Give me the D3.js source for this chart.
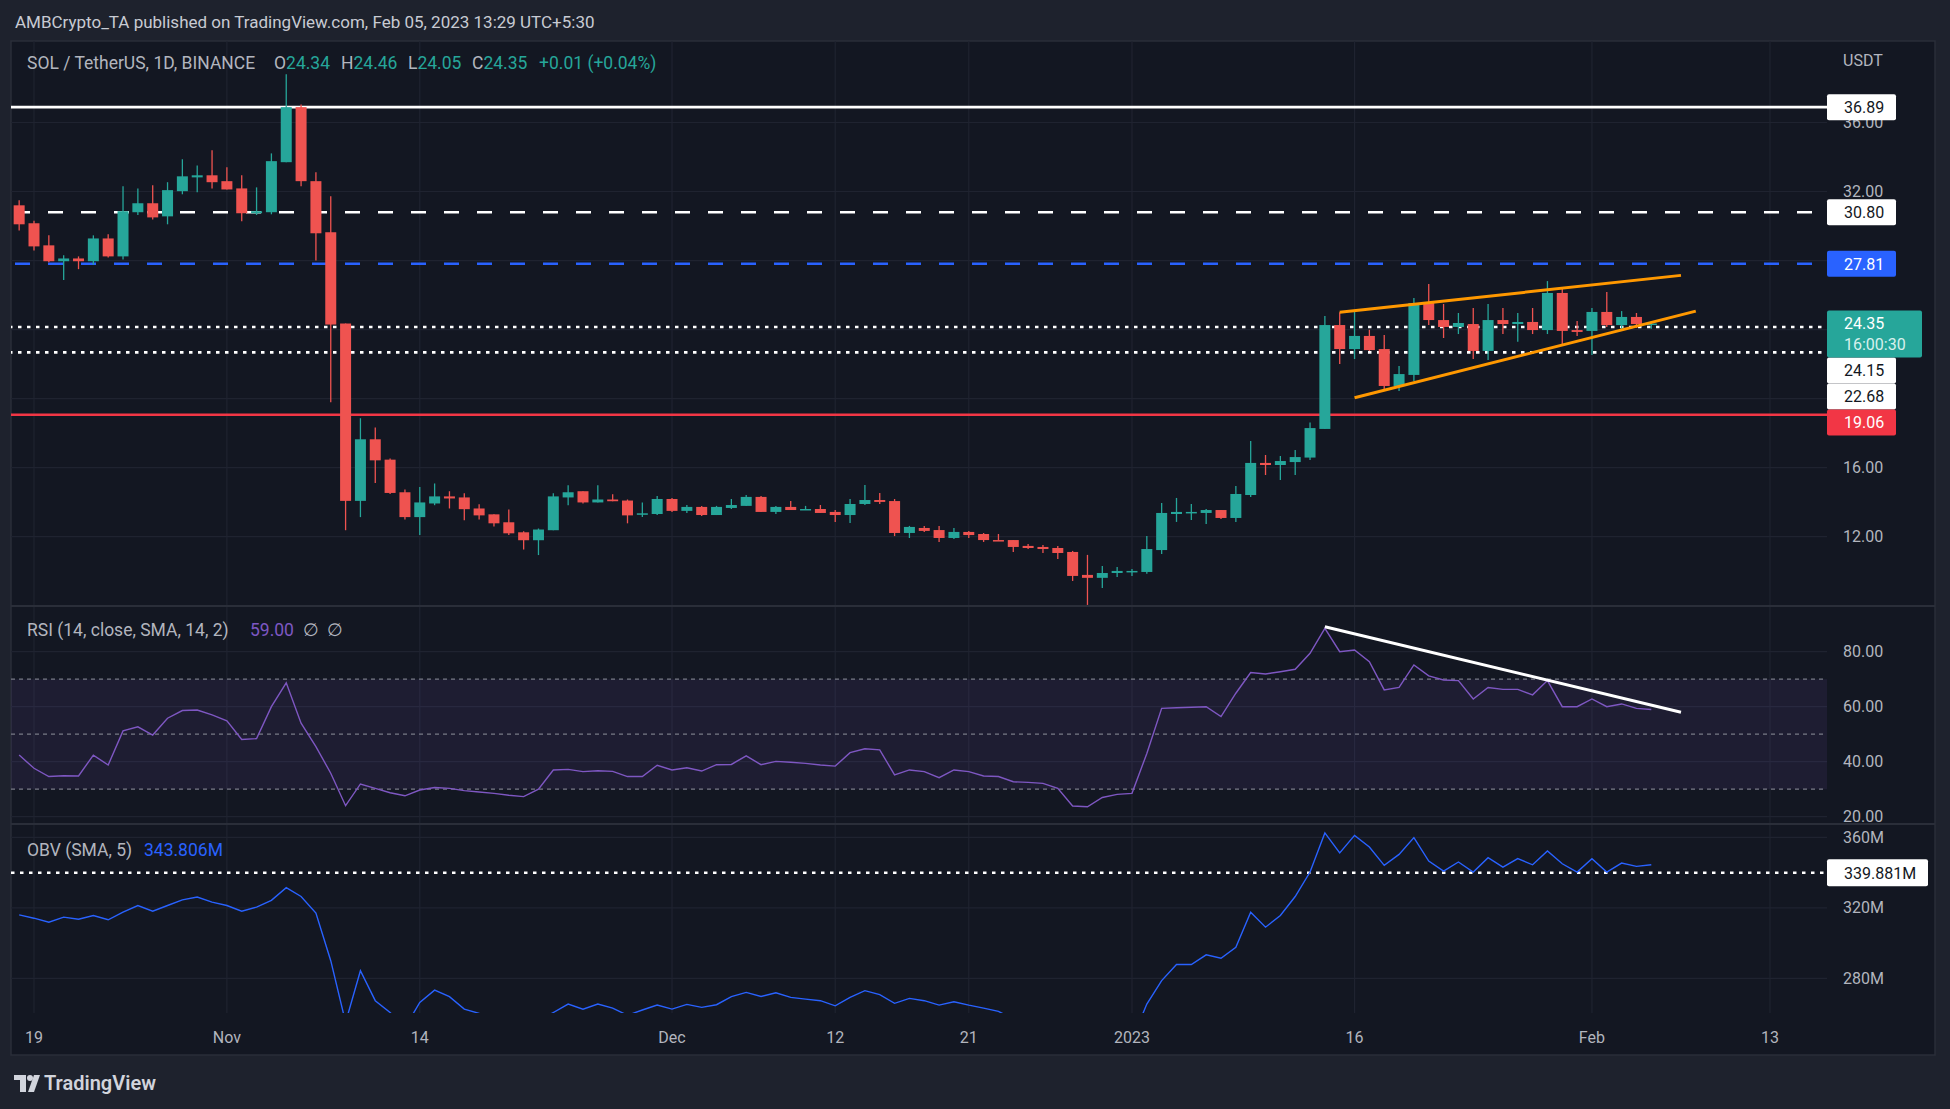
<!DOCTYPE html>
<html>
<head>
<meta charset="utf-8">
<script src="https://cdn.jsdelivr.net/npm/d3@7"></script>
<style>
  html, body { margin: 0; padding: 0; background: #1e222d; }
  svg { display: block; font-family: Roboto, "Open Sans", sans-serif; }
</style>
</head>
<body>
<svg id="chart" width="1950" height="1109"></svg>
<script>

// SOL / USDT daily candles, Oct 18 2022 -> Feb 5 2023
const firstDay = "2022-10-18";
const opens = [31.20, 30.16, 28.88, 27.96, 28.12, 27.96, 29.28, 28.24, 30.80, 31.32,
  30.56, 32.02, 32.82, 32.94, 32.60, 32.18, 30.74, 30.80, 33.70, 36.89,
  32.60, 29.64, 24.35, 14.07, 17.64, 16.46, 14.57, 13.13, 13.92, 14.33,
  14.27, 13.63, 13.29, 12.83, 12.25, 11.79, 12.37, 14.27, 14.63, 13.98,
  14.15, 14.09, 13.29, 13.31, 14.18, 13.49, 13.72, 13.25, 13.66, 13.78,
  14.30, 13.43, 13.72, 13.54, 13.60, 13.43, 13.25, 13.89, 14.12, 14.06,
  12.21, 12.50, 12.38, 11.92, 12.27, 12.15, 11.80, 11.80, 11.46, 11.40,
  11.34, 11.11, 9.78, 9.61, 9.89, 9.95, 9.95, 11.22, 13.31, 13.37,
  13.37, 13.54, 13.08, 14.41, 16.27, 16.15, 16.32, 16.58, 18.24, 24.26,
  22.87, 23.63, 22.87, 20.73, 21.37, 25.54, 24.55, 24.15, 24.32, 22.76,
  24.55, 24.32, 24.44, 23.97, 26.12, 23.97, 23.92, 25.02, 24.26, 24.73,
  24.34];
const highs = [31.50, 30.30, 29.46, 28.30, 28.24, 29.46, 29.52, 32.30, 32.18, 32.36,
  32.54, 33.87, 33.51, 34.39, 33.40, 32.94, 32.24, 34.21, 38.80, 37.05,
  33.12, 31.72, 24.35, 18.86, 18.32, 16.52, 14.73, 14.88, 15.08, 14.63,
  14.51, 13.87, 13.29, 13.57, 12.31, 12.47, 14.51, 14.97, 14.63, 14.97,
  14.45, 14.15, 13.98, 14.35, 14.24, 13.83, 13.78, 13.78, 14.18, 14.41,
  14.35, 13.78, 14.06, 13.78, 13.83, 13.54, 14.18, 14.99, 14.53, 14.18,
  12.62, 12.62, 12.62, 12.50, 12.33, 12.21, 12.15, 11.80, 11.57, 11.51,
  11.46, 11.17, 10.94, 10.30, 10.24, 10.12, 12.04, 13.95, 14.24, 13.89,
  13.60, 13.54, 14.93, 17.54, 16.73, 16.67, 17.02, 18.62, 24.79, 25.00,
  25.04, 23.99, 23.68, 21.89, 25.83, 26.64, 25.48, 24.96, 25.25, 25.48,
  25.25, 24.96, 25.25, 26.81, 26.35, 24.50, 25.25, 26.18, 25.07, 24.96,
  24.46];
const lows = [29.74, 28.58, 27.90, 26.87, 27.50, 27.76, 28.18, 28.06, 30.64, 30.38,
  30.10, 31.84, 31.96, 32.18, 32.12, 30.28, 30.64, 30.68, 33.70, 32.30,
  28.00, 19.78, 12.37, 13.13, 15.10, 14.47, 12.99, 12.09, 13.82, 13.63,
  12.95, 12.99, 12.59, 12.09, 11.25, 10.93, 12.37, 13.82, 13.92, 13.98,
  14.05, 12.77, 13.13, 13.25, 13.43, 13.37, 13.19, 13.25, 13.60, 13.78,
  13.43, 13.31, 13.54, 13.54, 13.37, 12.85, 12.79, 13.83, 13.89, 12.03,
  11.92, 12.27, 11.69, 11.86, 11.92, 11.69, 11.75, 11.11, 11.28, 11.05,
  10.70, 9.43, 8.04, 9.02, 9.66, 9.72, 9.84, 10.99, 12.85, 12.96,
  12.73, 13.02, 12.85, 14.30, 15.57, 15.28, 15.57, 16.44, 18.24, 22.00,
  22.29, 22.76, 20.50, 20.44, 21.02, 24.26, 23.51, 23.74, 22.29, 22.24,
  23.74, 23.30, 23.74, 23.74, 23.10, 23.63, 22.52, 24.15, 24.03, 24.09,
  24.05];
const closes = [30.10, 28.82, 27.96, 28.12, 27.96, 29.28, 28.24, 30.86, 31.32, 30.50,
  32.08, 32.88, 32.94, 32.54, 32.12, 30.74, 30.86, 33.76, 36.89, 32.60,
  29.58, 24.29, 14.07, 17.64, 16.42, 14.53, 13.13, 13.98, 14.33, 14.21,
  13.59, 13.23, 12.77, 12.19, 11.79, 12.41, 14.33, 14.57, 13.98, 14.15,
  14.05, 13.23, 13.35, 14.18, 13.49, 13.72, 13.25, 13.72, 13.83, 14.30,
  13.43, 13.72, 13.54, 13.60, 13.37, 13.25, 13.89, 14.12, 14.01, 12.21,
  12.56, 12.33, 11.92, 12.27, 12.09, 11.80, 11.75, 11.40, 11.34, 11.28,
  11.05, 9.72, 9.61, 9.89, 10.01, 10.01, 11.28, 13.37, 13.43, 13.43,
  13.54, 13.08, 14.47, 16.27, 16.15, 16.38, 16.61, 18.29, 24.26, 22.87,
  23.63, 22.81, 20.73, 21.42, 25.54, 24.55, 24.15, 24.38, 22.76, 24.55,
  24.32, 24.44, 23.97, 26.12, 23.92, 23.86, 25.02, 24.26, 24.73, 24.32,
  24.35];

// indicators
const rsiValues = [42.4, 37.6, 34.6, 34.9, 34.8, 42.4, 38.8, 51.2, 52.7, 49.7,
  55.8, 58.6, 58.8, 57.0, 54.9, 48.1, 48.4, 60.0, 68.7, 54.0,
  45.5, 35.8, 24.0, 31.9, 30.3, 28.7, 27.6, 29.7, 30.6, 30.3,
  29.5, 29.0, 28.5, 27.8, 27.3, 30.0, 37.0, 37.2, 36.4, 36.7,
  36.5, 34.6, 34.6, 38.7, 37.0, 37.8, 36.6, 38.9, 39.0, 42.1,
  38.9, 40.1, 39.8, 39.4, 38.8, 38.4, 43.3, 44.7, 44.3, 35.2,
  37.0, 36.4, 34.2, 37.0, 36.4, 34.8, 34.6, 32.7, 32.5, 32.1,
  30.3, 23.9, 23.6, 27.0, 28.1, 28.5, 43.0, 59.4, 59.6, 59.8,
  60.0, 56.4, 64.9, 72.4, 71.9, 72.7, 73.6, 79.4, 88.5, 80.0,
  80.6, 76.4, 66.1, 67.0, 75.2, 71.2, 69.7, 69.5, 62.8, 67.0,
  66.3, 66.3, 64.3, 69.5, 60.0, 60.0, 62.8, 60.0, 61.0, 59.4,
  59.0];
const obvValues = [316.0, 314.1, 311.8, 314.7, 313.5, 315.6, 313.2, 317.5, 321.3, 318.1,
  321.3, 324.5, 326.1, 323.2, 321.3, 318.1, 320.4, 324.2, 331.4, 326.4,
  317.0, 290.0, 255.0, 284.3, 267.3, 260.6, 252.0, 266.3, 273.3, 269.6,
  262.5, 260.1, 255.0, 253.0, 252.0, 256.0, 260.6, 265.4, 262.5, 265.4,
  263.1, 259.0, 262.0, 264.8, 262.5, 265.2, 263.5, 265.0, 269.6, 272.0,
  269.7, 271.8, 269.2, 268.2, 267.3, 264.4, 269.2, 273.0, 270.7, 265.8,
  268.6, 267.3, 264.8, 266.7, 264.8, 263.1, 261.2, 257.0, 250.0, 248.0,
  247.0, 240.0, 238.0, 241.0, 243.0, 245.0, 265.4, 278.7, 287.8, 287.8,
  293.3, 291.4, 297.6, 317.5, 309.0, 315.6, 326.4, 340.3, 362.5, 351.1,
  361.1, 354.5, 344.1, 350.3, 359.8, 346.5, 340.8, 346.0, 340.3, 348.4,
  343.1, 347.9, 344.4, 352.2, 345.0, 340.3, 347.9, 340.3, 345.4, 343.5,
  344.4];

// horizontal levels and drawings
const levelPrices = [36.89, 30.80, 27.81, 24.15, 22.68, 19.06];
const obvLevel = 339.881;
const wedgeUpperDates = ["2023-01-15", "2023-02-07"];
const wedgeUpperPrices = [25.00, 27.14];
const wedgeLowerDates = ["2023-01-16", "2023-02-08"];
const wedgeLowerPrices = [20.05, 25.07];
const rsiTrendDates = ["2023-01-14", "2023-02-07"];
const rsiTrendValues = [89.1, 57.96];

// axis ticks
const timeTickDates = ["2022-10-19", "2022-11-01", "2022-11-14", "2022-12-01", "2022-12-12",
  "2022-12-21", "2023-01-01", "2023-01-16", "2023-02-01", "2023-02-13"];
const timeTickLabels = ["19", "Nov", "14", "Dec", "12", "21", "2023", "16", "Feb", "13"];
const priceTicks = [8, 12, 16, 20, 24, 28, 32, 36];
const rsiTicks = [20, 40, 60, 80];
const obvTicks = [280, 320, 360];

const parseDay = d3.utcParse("%Y-%m-%d");
const dates = opens.map((_, i) => d3.utcDay.offset(parseDay(firstDay), i));

// layout
const L = 11, R = 1827, AR = 1935;
const pricePane = [41, 606], rsiPane = [606, 824], obvPane = [824, 1013], axisBottom = 1055;

const x = d3.scaleUtc()
    .domain([parseDay("2022-10-19"), parseDay("2023-02-13")])
    .range([34, 1770]);
const yPrice = d3.scaleLinear().domain([12, 36]).range([536.6, 122.5]);
const yRsi = d3.scaleLinear().domain([20, 80]).range([816.7, 651.7]);
const yObv = d3.scaleLinear().domain([280, 360]).range([978.3, 837.3]);

const svg = d3.select("#chart");
const upColor = "#26a69a", downColor = "#ef5350";

// backgrounds
svg.append("rect").attr("width", 1950).attr("height", 1109).attr("fill", "#1e222d");
svg.append("rect").attr("x", L).attr("y", pricePane[0]).attr("width", AR - L).attr("height", axisBottom - pricePane[0])
    .attr("fill", "#131722").attr("stroke", "#2a2e39").attr("stroke-width", 1.5);

// clip paths
const defs = svg.append("defs");
[["clipPrice", pricePane], ["clipRsi", rsiPane], ["clipObv", obvPane]].forEach(([id, p]) => {
    defs.append("clipPath").attr("id", id).append("rect")
        .attr("x", L).attr("y", p[0]).attr("width", R - L).attr("height", p[1] - p[0]);
});

// grid
const grid = svg.append("g").attr("stroke", "#1f2330").attr("stroke-width", 1.2);
timeTickDates.forEach(d => {
    grid.append("line").attr("x1", x(parseDay(d))).attr("x2", x(parseDay(d)))
        .attr("y1", pricePane[0]).attr("y2", obvPane[1]);
});
priceTicks.forEach(v => grid.append("line").attr("x1", L).attr("x2", R).attr("y1", yPrice(v)).attr("y2", yPrice(v)));
rsiTicks.forEach(v => grid.append("line").attr("x1", L).attr("x2", R).attr("y1", yRsi(v)).attr("y2", yRsi(v)));
obvTicks.forEach(v => grid.append("line").attr("x1", L).attr("x2", R).attr("y1", yObv(v)).attr("y2", yObv(v)));

// pane separators
[rsiPane[0], obvPane[0]].forEach(y => {
    svg.append("line").attr("x1", L).attr("x2", AR).attr("y1", y).attr("y2", y)
        .attr("stroke", "#2a2e39").attr("stroke-width", 2);
});

// ---------- price pane ----------
const pg = svg.append("g").attr("clip-path", "url(#clipPrice)");

const levelColors = ["#ffffff", "#ffffff", "#2962ff", "#ffffff", "#ffffff", "#f23645"];
const levelDash = [null, "15 18", "15 18", "3.5 5.5", "3.5 5.5", null];
levelPrices.forEach((v, i) => {
    pg.append("line").attr("x1", L).attr("x2", R).attr("y1", yPrice(v)).attr("y2", yPrice(v))
        .attr("stroke", levelColors[i]).attr("stroke-width", 2.6)
        .attr("stroke-dasharray", levelDash[i]).attr("stroke-dashoffset", levelDash[i] ? 29 : null);
});

// candles
const candle = pg.selectAll("g.candle").data(dates).enter().append("g").attr("class", "candle");
candle.append("line")
    .attr("x1", d => x(d)).attr("x2", d => x(d))
    .attr("y1", (d, i) => yPrice(highs[i])).attr("y2", (d, i) => yPrice(lows[i]))
    .attr("stroke", (d, i) => closes[i] >= opens[i] ? upColor : downColor).attr("stroke-width", 1.3);
candle.append("rect")
    .attr("x", d => x(d) - 5.5).attr("width", 11)
    .attr("y", (d, i) => yPrice(Math.max(opens[i], closes[i])))
    .attr("height", (d, i) => Math.max(1.5, Math.abs(yPrice(opens[i]) - yPrice(closes[i]))))
    .attr("fill", (d, i) => closes[i] >= opens[i] ? upColor : downColor);

// rising wedge
[[wedgeUpperDates, wedgeUpperPrices], [wedgeLowerDates, wedgeLowerPrices]].forEach(([ds, ps]) => {
    pg.append("line")
        .attr("x1", x(parseDay(ds[0]))).attr("y1", yPrice(ps[0]))
        .attr("x2", x(parseDay(ds[1]))).attr("y2", yPrice(ps[1]))
        .attr("stroke", "#ff9800").attr("stroke-width", 3);
});

// ---------- RSI pane ----------
const rg = svg.append("g").attr("clip-path", "url(#clipRsi)");
rg.append("rect").attr("x", L).attr("width", R - L)
    .attr("y", yRsi(70)).attr("height", yRsi(30) - yRsi(70))
    .attr("fill", "#7e57c2").attr("fill-opacity", 0.1);
[70, 50, 30].forEach(v => {
    rg.append("line").attr("x1", L).attr("x2", R).attr("y1", yRsi(v)).attr("y2", yRsi(v))
        .attr("stroke", "#787b86").attr("stroke-width", 1.2).attr("stroke-dasharray", "4 4");
});
rg.append("path").datum(rsiValues)
    .attr("d", d3.line().x((d, i) => x(dates[i])).y(d => yRsi(d)))
    .attr("fill", "none").attr("stroke", "#7e57c2").attr("stroke-width", 1.4);
rg.append("line")
    .attr("x1", x(parseDay(rsiTrendDates[0]))).attr("y1", yRsi(rsiTrendValues[0]))
    .attr("x2", x(parseDay(rsiTrendDates[1]))).attr("y2", yRsi(rsiTrendValues[1]))
    .attr("stroke", "#ffffff").attr("stroke-width", 3);

// ---------- OBV pane ----------
const og = svg.append("g").attr("clip-path", "url(#clipObv)");
og.append("line").attr("x1", L).attr("x2", R).attr("y1", yObv(obvLevel)).attr("y2", yObv(obvLevel))
    .attr("stroke", "#ffffff").attr("stroke-width", 2.6).attr("stroke-dasharray", "3.5 5.5");
og.append("path").datum(obvValues)
    .attr("d", d3.line().x((d, i) => x(dates[i])).y(d => yObv(d)))
    .attr("fill", "none").attr("stroke", "#2962ff").attr("stroke-width", 1.4);

// ---------- price labels on the axis (pushed down so they never overlap) ----------
const lastClose = closes[closes.length - 1];
const labels = levelPrices.map((v, i) => ({
    y: yPrice(v), h: 26, lines: [v.toFixed(2)],
    bg: i === 2 ? "#2962ff" : i === 5 ? "#f23645" : "#ffffff",
    fg: i === 2 || i === 5 ? "#ffffff" : "#131722", w: 69
}));
labels.push({ y: yPrice(lastClose), h: 47, lines: [lastClose.toFixed(2), "16:00:30"],
    bg: upColor, fg: "#ffffff", w: 95, top: true });
labels.sort((a, b) => a.y - b.y);
let prevBottom = -Infinity;
labels.forEach(l => {
    l.t = Math.max(l.y - 13, prevBottom);
    prevBottom = l.t + l.h;
});
const hiddenByLabel = y => labels.some(l => y > l.t && y < l.t + l.h);

// ---------- axes ----------
const axisText = (g, xx, y, txt) => g.append("text").attr("x", xx).attr("y", y)
    .attr("dy", "0.35em").attr("fill", "#b2b5be").attr("font-size", 16).text(txt);

const ax = svg.append("g");
priceTicks.filter(v => v >= 12 && !hiddenByLabel(yPrice(v)))
    .forEach(v => axisText(ax, 1843, yPrice(v), v.toFixed(2)));
rsiTicks.forEach(v => axisText(ax, 1843, yRsi(v), v.toFixed(2)));
obvTicks.forEach(v => axisText(ax, 1843, yObv(v), v + "M"));
axisText(ax, 1843, 60, "USDT");

timeTickDates.forEach((d, i) => {
    ax.append("text").attr("x", x(parseDay(d))).attr("y", 1037).attr("dy", "0.35em")
        .attr("text-anchor", "middle").attr("fill", "#b2b5be").attr("font-size", 16)
        .text(timeTickLabels[i]);
});

const lg = svg.append("g");
labels.filter(l => !l.top).concat(labels.filter(l => l.top)).forEach(l => {
    lg.append("rect").attr("x", R).attr("y", l.t).attr("width", l.w).attr("height", l.h)
        .attr("rx", 2).attr("fill", l.bg);
    l.lines.forEach((t, k) => {
        lg.append("text").attr("x", 1844).attr("y", l.t + 13 + k * 21).attr("dy", "0.36em")
            .attr("font-size", 16).attr("fill", k ? "#d8f0ed" : l.fg).text(t);
    });
});
lg.append("rect").attr("x", R).attr("y", yObv(obvLevel) - 13.5).attr("width", 101).attr("height", 27)
    .attr("rx", 2).attr("fill", "#ffffff");
lg.append("text").attr("x", 1844).attr("y", yObv(obvLevel)).attr("dy", "0.36em")
    .attr("font-size", 16).attr("fill", "#131722").text(obvLevel.toFixed(3) + "M");

// ---------- legends ----------
svg.append("text").attr("x", 15).attr("y", 28).attr("font-size", 17).attr("fill", "#c8cbd3")
    .text("AMBCrypto_TA published on TradingView.com, Feb 05, 2023 13:29 UTC+5:30");

const legendPart = (g, xx, txt, color) => g.append("tspan").attr("x", xx)
    .attr("fill", color || "#b2b5be").text(txt);

const leg = svg.append("text").attr("y", 69).attr("font-size", 17.5);
legendPart(leg, 27, "SOL / TetherUS, 1D, BINANCE");
legendPart(leg, 274, "O");
leg.append("tspan").attr("fill", upColor).text(opens[opens.length - 1].toFixed(2));
legendPart(leg, 341, "H");
leg.append("tspan").attr("fill", upColor).text(highs[highs.length - 1].toFixed(2));
legendPart(leg, 408, "L");
leg.append("tspan").attr("fill", upColor).text(lows[lows.length - 1].toFixed(2));
legendPart(leg, 472, "C");
leg.append("tspan").attr("fill", upColor).text(lastClose.toFixed(2));
legendPart(leg, 539, "+0.01 (+0.04%)", upColor);

const rleg = svg.append("text").attr("y", 636).attr("font-size", 17.5);
legendPart(rleg, 27, "RSI (14, close, SMA, 14, 2)");
legendPart(rleg, 250, rsiValues[rsiValues.length - 1].toFixed(2), "#7e57c2");
legendPart(rleg, 303, "∅");
legendPart(rleg, 327, "∅");

const oleg = svg.append("text").attr("y", 856).attr("font-size", 17.5);
legendPart(oleg, 27, "OBV (SMA, 5)");
legendPart(oleg, 144, "343.806M", "#2962ff");

// ---------- footer logo ----------
const logo = svg.append("g").attr("fill", "#d1d4dc");
logo.append("rect").attr("x", 14).attr("y", 1075).attr("width", 12).attr("height", 5);
logo.append("rect").attr("x", 20).attr("y", 1075).attr("width", 6).attr("height", 17);
logo.append("circle").attr("cx", 30).attr("cy", 1078).attr("r", 3);
logo.append("polygon").attr("points", "34,1075 40,1075 34,1092 28,1092");
svg.append("text").attr("x", 44).attr("y", 1090).attr("font-size", 20).attr("font-weight", 600)
    .attr("fill", "#d1d4dc").text("TradingView");

</script>
</body>
</html>
